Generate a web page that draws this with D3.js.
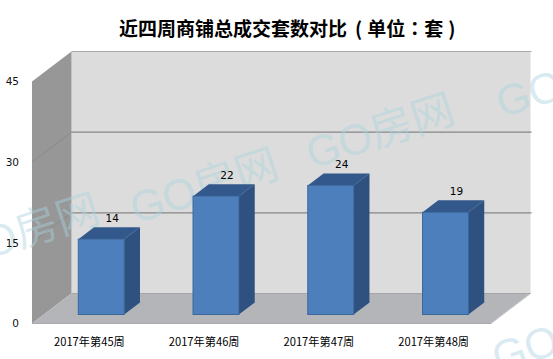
<!DOCTYPE html>
<html>
<head>
<meta charset="utf-8">
<script src="https://cdn.jsdelivr.net/npm/d3@7"></script>
<style>
html, body { margin: 0; padding: 0; background: #fff; }
svg { display: block; }
text { font-family: "Noto Sans CJK SC", "Noto Sans", sans-serif; fill: #111; }
</style>
</head>
<body>
<div id="chart"></div>
<script>
var categories = ["2017年第45周", "2017年第46周", "2017年第47周", "2017年第48周"];
var values = [14, 22, 24, 19];
var yTicks = [0, 15, 30, 45];
var titleMain = "近四周商铺总成交套数对比";
var titleUnit = "单位";
var titleUnitValue = "套";
var watermarkText = "GO房网";

var width = 553, height = 359;
var margin = {top: 81.5, right: 62, bottom: 35.5, left: 32};

// how far the back wall sits from the front plane
var depthX = 39.5, depthY = 30;

var x = d3.scaleBand()
    .domain(categories)
    .range([margin.left, width - margin.right]);

var y = d3.scaleLinear()
    .domain([0, 45])
    .range([height - margin.bottom, margin.top]);

function px(xv, depth) { return xv + depthX * depth; }
function py(v, depth) { return y(v) - depthY * depth; }
function pt(xv, v, depth) { return px(xv, depth) + "," + py(v, depth); }

var svg = d3.select("#chart")
    .append("svg")
    .attr("width", width)
    .attr("height", height);

var xL = x.range()[0], xR = x.range()[1];

// back wall
svg.append("polygon")
    .attr("points", [pt(xL, 45, 1), pt(xR, 45, 1), pt(xR, 0, 1), pt(xL, 0, 1)].join(" "))
    .attr("fill", "#dcdcdc");

// side wall
svg.append("polygon")
    .attr("points", [pt(xL, 45, 0), pt(xL, 45, 1), pt(xL, 0, 1), pt(xL, 0, 0)].join(" "))
    .attr("fill", "#979797");

// floor
svg.append("polygon")
    .attr("points", [pt(xL, 0, 0), pt(xL, 0, 1), pt(xR, 0, 1), pt(xR, 0, 0)].join(" "))
    .attr("fill", "#b3b5b9");

// gridlines
var gridVals = yTicks.filter(function(d) { return d > 0; });

svg.selectAll(".grid-back")
    .data(gridVals)
    .enter().append("line")
    .attr("class", "grid-back")
    .attr("x1", px(xL, 1))
    .attr("x2", px(xR, 1) + 1)
    .attr("y1", function(d) { return py(d, 1); })
    .attr("y2", function(d) { return py(d, 1); })
    .attr("stroke", function(d) { return d === 45 ? "#a8a8a8" : "#868686"; })
    .attr("stroke-width", 1.2);

svg.selectAll(".grid-side")
    .data(gridVals.slice(0, 2))
    .enter().append("line")
    .attr("class", "grid-side")
    .attr("x1", px(xL, 0))
    .attr("x2", px(xL, 1))
    .attr("y1", function(d) { return py(d, 0); })
    .attr("y2", function(d) { return py(d, 1); })
    .attr("stroke", "#8a8a8a");

svg.append("line")
    .attr("x1", px(xL, 0)).attr("x2", px(xR, 0))
    .attr("y1", py(0, 0)).attr("y2", py(0, 0))
    .attr("stroke", "#a9a9a9")
    .attr("stroke-width", 1.2);

svg.append("line")
    .attr("x1", px(xR, 0)).attr("x2", px(xR, 1))
    .attr("y1", py(0, 0)).attr("y2", py(0, 1))
    .attr("stroke", "#c8c8c8");

svg.append("line")
    .attr("x1", px(xL, 1)).attr("x2", px(xR, 1))
    .attr("y1", py(0, 1)).attr("y2", py(0, 1))
    .attr("stroke", "#a6a6a6");

// watermarks, under the bars
var marks = [[-43, 269], [136, 224], [312, 169], [502, 118], [498, 373]];

svg.selectAll(".watermark")
    .data(marks)
    .enter().append("text")
    .attr("class", "watermark")
    .attr("transform", function(d) { return "translate(" + d[0] + "," + d[1] + ") rotate(-18)"; })
    .style("font-family", "'Liberation Sans', 'Noto Sans CJK SC', sans-serif")
    .style("font-size", "43px")
    .style("fill", "#a9d3de")
    .style("fill-opacity", 0.45)
    .text(watermarkText);

// bars
var barW = x.bandwidth() * 0.4;
var front = 0.3, back = 0.7;

var bar = svg.selectAll(".bar")
    .data(values)
    .enter().append("g")
    .attr("class", "bar");

function barLeft(i) { return x(categories[i]) + x.bandwidth() / 2 - barW / 2; }

bar.append("polygon")
    .attr("points", function(d, i) {
        var l = barLeft(i), r = l + barW;
        return [pt(l, d, front), pt(l, d, back), pt(r, d, back), pt(r, d, front)].join(" ");
    })
    .attr("fill", "#33588c");

bar.append("polygon")
    .attr("points", function(d, i) {
        var r = barLeft(i) + barW;
        return [pt(r, d, front), pt(r, d, back), pt(r, 0, back), pt(r, 0, front)].join(" ");
    })
    .attr("fill", "#2f5180");

bar.append("rect")
    .attr("x", function(d, i) { return px(barLeft(i), front); })
    .attr("y", function(d) { return py(d, front); })
    .attr("width", barW)
    .attr("height", function(d) { return y(0) - y(d); })
    .attr("fill", "#4e7fbd")
    .attr("stroke", "#3a679c");

// value labels
bar.append("text")
    .attr("x", function(d, i) { return px(x(categories[i]) + x.bandwidth() / 2, 0.58); })
    .attr("y", function(d) { return py(d, back) - 5.5; })
    .attr("text-anchor", "middle")
    .style("font-family", "'DejaVu Sans', sans-serif")
    .style("font-size", "10.5px")
    .style("fill", "#000")
    .text(function(d) { return d; });

// axes
var yAxis = d3.axisLeft(y).tickValues(yTicks).tickSize(0).tickPadding(13);
var yG = svg.append("g")
    .attr("transform", "translate(" + margin.left + ",0)")
    .call(yAxis);
yG.select(".domain").remove();
yG.selectAll("text")
    .style("font-family", "'DejaVu Sans', sans-serif")
    .style("font-size", "10.5px");

var xAxis = d3.axisBottom(x).tickSize(0).tickPadding(15);
var xG = svg.append("g")
    .attr("transform", "translate(0," + y(0) + ")")
    .call(xAxis);
xG.select(".domain").remove();
xG.selectAll("text")
    .style("font-size", "11.2px")
    .style("fill", "#000");

// title, narrow brackets with gaps; the colon comes from the TC face so it sits centred
var title = svg.append("text")
    .attr("x", 119)
    .attr("y", 36)
    .style("font-size", "19px")
    .style("font-weight", "bold")
    .style("fill", "#000");

title.append("tspan").text(titleMain);
title.append("tspan").attr("dx", 8).text("(");
title.append("tspan").attr("dx", 5).text(titleUnit);
title.append("tspan").style("font-family", "'Noto Sans CJK TC'").text("：");
title.append("tspan").text(titleUnitValue);
title.append("tspan").attr("dx", 5).text(")");
</script>
</body>
</html>
